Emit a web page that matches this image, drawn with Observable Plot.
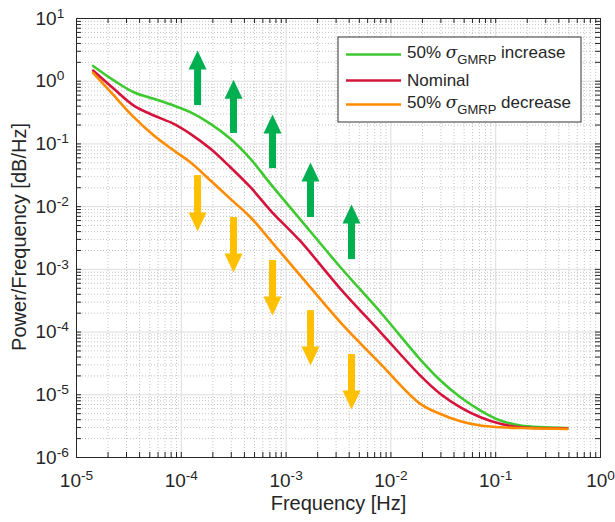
<!DOCTYPE html>
<html>
<head>
<meta charset="utf-8">
<script src="https://cdn.jsdelivr.net/npm/d3@7"></script>
<script src="https://cdn.jsdelivr.net/npm/@observablehq/plot@0.6"></script>
<style>
  html, body { margin: 0; padding: 0; background: #fff; }
  #chart { position: relative; width: 615px; height: 522px; }
</style>
</head>
<body>
<div id="chart"></div>
<script>
// ---------- data ----------
const freq = [1.44e-5, 2.27e-5, 3.52e-5, 5.47e-5, 8.47e-5, 1.22e-4, 1.90e-4, 2.94e-4, 4.57e-4, 7.10e-4,
              1.37e-3, 3.30e-3, 7.96e-3, 1.91e-2, 2.97e-2, 4.61e-2, 7.16e-2, 0.111, 0.173, 0.481];
const increase = [1.75, 1.03, 0.668, 0.524, 0.409, 0.321, 0.209, 0.121, 0.0578, 0.0231,
                  6.22e-3, 1.08e-3, 2.07e-4, 3.64e-5, 1.69e-5, 9.12e-6, 5.60e-6, 3.88e-6, 3.23e-6, 2.94e-6];
const nominal = [1.48, 0.757, 0.409, 0.284, 0.209, 0.145, 0.0836, 0.0425, 0.0204, 8.67e-3,
                 2.81e-3, 4.89e-4, 9.93e-5, 2.02e-5, 1.03e-5, 6.32e-6, 4.38e-6, 3.44e-6, 3.03e-6, 2.91e-6];
const decrease = [1.36, 0.592, 0.267, 0.136, 0.0785, 0.0510, 0.0261, 0.0133, 6.78e-3, 2.88e-3,
                  7.96e-4, 1.43e-4, 3.11e-5, 7.16e-6, 4.95e-6, 3.78e-6, 3.23e-6, 3.03e-6, 2.95e-6, 2.86e-6];
const seriesNames = ["increase", "Nominal", "decrease"];

const arrowFreq = [1.43e-4, 3.15e-4, 7.42e-4, 1.71e-3, 4.21e-3];
const upFrom = [0.409, 0.147, 0.0405, 6.70e-3, 1.43e-3];
const upTo = [3.09, 1.06, 0.294, 0.0505, 0.0108];
const downFrom = [0.0313, 6.70e-3, 1.38e-3, 2.20e-4, 4.38e-5];
const downTo = [4.01e-3, 8.89e-4, 1.83e-4, 2.92e-5, 5.81e-6];

const xTicks = [1e-5, 1e-4, 1e-3, 1e-2, 1e-1, 1];
const yTicks = [1e-6, 1e-5, 1e-4, 1e-3, 1e-2, 1e-1, 1, 10];
const xLabel = "Frequency [Hz]";
const yLabel = "Power/Frequency [dB/Hz]";

// ---------- derived tables ----------
const colors = {increase: "#3ec930", Nominal: "#d5143c", decrease: "#ff8c00"};
const series = [["increase", increase], ["Nominal", nominal], ["decrease", decrease]];
const lineData = series.flatMap(([name, vals]) => vals.map((v, i) => ({name, f: freq[i], v})));
const upArrows = arrowFreq.map((f, i) => ({f, from: upFrom[i], to: upTo[i]}));
const downArrows = arrowFreq.map((f, i) => ({f, from: downFrom[i], to: downTo[i]}));
const minorOf = (ticks) => ticks.slice(0, -1).flatMap(d => [2,3,4,5,6,7,8,9].map(k => k * d));
const xMinor = minorOf(xTicks);
const yMinor = minorOf(yTicks);

const W = 615, H = 522, mT = 18, mR = 15, mB = 65, mL = 76;
const innerW = W - mL - mR, innerH = H - mT - mB;
const tickLen = 5;
const axisColor = "#262626";

// arrow heads: tip at the anchor point; half-width 9px, height 19px
const HW = 9, HH = 19;
const headUp = {draw(ctx) { ctx.moveTo(0, 0); ctx.lineTo(HW, HH); ctx.lineTo(-HW, HH); ctx.closePath(); }};
const headDown = {draw(ctx) { ctx.moveTo(0, 0); ctx.lineTo(HW, -HH); ctx.lineTo(-HW, -HH); ctx.closePath(); }};

const fmt = d => "10^" + Math.round(Math.log10(d));
const font = "Helvetica, 'Liberation Sans', Arial, sans-serif";

const chart = Plot.plot({
  width: W, height: H,
  marginTop: mT, marginRight: mR, marginBottom: mB, marginLeft: mL,
  style: {fontFamily: font, background: "#fff", color: axisColor, overflow: "visible"},
  x: {type: "log", domain: [1e-5, 1]},
  y: {type: "log", domain: [1e-6, 10]},
  marks: [
    // minor grid (dotted)
    Plot.ruleX(xMinor, {stroke: "#c4c4c4", strokeDasharray: "1,2"}),
    Plot.ruleY(yMinor, {stroke: "#c4c4c4", strokeDasharray: "1,2"}),
    // major grid
    Plot.ruleX(xTicks, {stroke: "#dcdcdc"}),
    Plot.ruleY(yTicks, {stroke: "#dcdcdc"}),
    // curves
    Plot.line(lineData, {x: "f", y: "v", z: "name", stroke: d => colors[d.name], strokeWidth: 2.6, curve: "catmull-rom"}),
    // arrows (y1 is always the upper end so that insetTop/insetBottom trims the head side)
    Plot.ruleX(upArrows, {x: "f", y1: "to", y2: "from", stroke: "#00b050", strokeWidth: 7, insetTop: 14}),
    Plot.dot(upArrows, {x: "f", y: "to", symbol: headUp, r: 9, fill: "#00b050", stroke: "none"}),
    Plot.ruleX(downArrows, {x: "f", y1: "from", y2: "to", stroke: "#ffc000", strokeWidth: 7, insetBottom: 14}),
    Plot.dot(downArrows, {x: "f", y: "to", symbol: headDown, r: 9, fill: "#ffc000", stroke: "none"}),
    // inward ticks on all four sides
    Plot.ruleX(xTicks.concat(xMinor), {stroke: axisColor, insetTop: innerH - tickLen}),
    Plot.ruleX(xTicks.concat(xMinor), {stroke: axisColor, insetBottom: innerH - tickLen}),
    Plot.ruleY(yTicks.concat(yMinor), {stroke: axisColor, insetRight: innerW - tickLen}),
    Plot.ruleY(yTicks.concat(yMinor), {stroke: axisColor, insetLeft: innerW - tickLen}),
    Plot.frame({stroke: axisColor, strokeWidth: 1}),
    // axes
    Plot.axisX({ticks: xTicks, tickSize: 0, tickPadding: 16, tickFormat: fmt, fontSize: 19, label: null}),
    Plot.axisY({ticks: yTicks, tickSize: 0, tickPadding: 0, tickFormat: fmt, fontSize: 19, label: null, textAnchor: "start", dx: -41}),
    Plot.text([xLabel], {frameAnchor: "bottom", dy: 46, lineAnchor: "middle", textAnchor: "middle", fontSize: 20, fill: axisColor}),
    Plot.text([yLabel], {frameAnchor: "left", dx: -57, dy: -1, rotate: -90, lineAnchor: "middle", textAnchor: "middle", fontSize: 20, fill: axisColor})
  ]
});

// superscript exponents in tick labels
d3.select(chart).selectAll("text").each(function() {
  const m = /^10\^(-?\d+)$/.exec(this.textContent);
  if (!m) return;
  const t = d3.select(this);
  t.text(null);
  t.append("tspan").text("10");
  t.append("tspan").attr("dy", "-0.5em").attr("font-size", "0.72em").text(m[1]);
});

// legend inside the axes (upper right)
const svg = d3.select(chart);
const lg = svg.append("g").attr("font-family", font).attr("font-size", 17)
  .attr("fill", axisColor).attr("text-anchor", "start");
lg.append("rect").attr("x", 338).attr("y", 37).attr("width", 243).attr("height", 85)
  .attr("fill", "#fff").attr("stroke", "#333").attr("stroke-width", 1);
const rowsY = [54.5, 80.5, 104.5];
const baseY = [58, 86, 108];
seriesNames.forEach((name, i) => {
  lg.append("line").attr("x1", 346).attr("x2", 401).attr("y1", rowsY[i]).attr("y2", rowsY[i])
    .attr("stroke", colors[name]).attr("stroke-width", 2.6);
  const t = lg.append("text").attr("x", 407).attr("y", baseY[i]).attr("text-anchor", "start");
  if (name === "Nominal") {
    t.text("Nominal");
  } else {
    t.append("tspan").text("50% ");
    t.append("tspan").attr("font-style", "italic").attr("font-family", "'DejaVu Serif', serif").text("σ");
    t.append("tspan").attr("dy", 6).attr("font-size", 13).text("GMRP");
    t.append("tspan").attr("dy", -6).text(" " + name);
  }
});

document.getElementById("chart").appendChild(chart);
</script>
</body>
</html>
